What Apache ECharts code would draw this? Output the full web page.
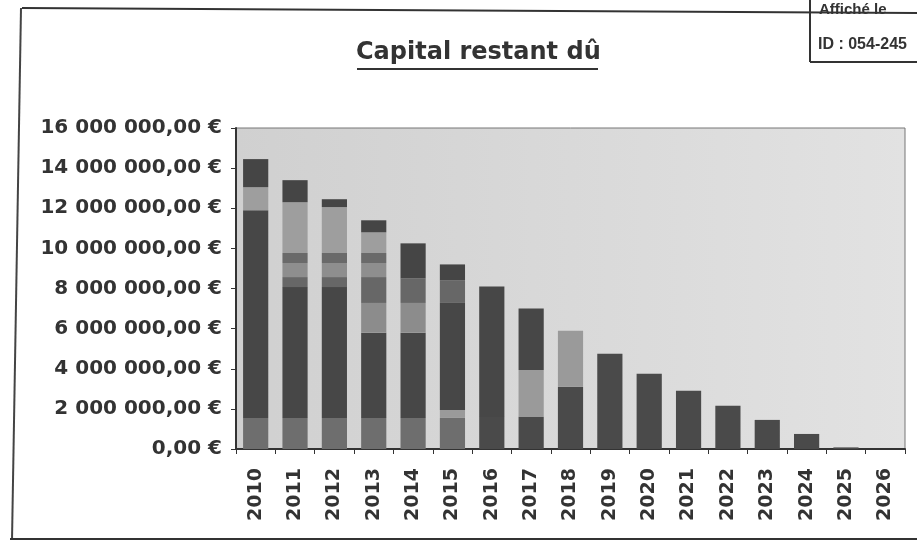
<!DOCTYPE html>
<html>
<head>
<meta charset="utf-8">
<script src="https://cdn.jsdelivr.net/npm/echarts@6/dist/echarts.min.js"></script>
<style>
html,body{margin:0;padding:0;background:#fff;}
#c{width:917px;height:543px;}
</style>
</head>
<body>
<div id="c"></div>
<script>
const years = ['2010','2011','2012','2013','2014','2015','2016','2017','2018','2019','2020','2021','2022','2023','2024','2025','2026'];
// stacked segments, bottom to top (euros)
const segBottom   = [1550000,1550000,1550000,1550000,1550000,1550000,0,0,0,0,0,0,0,0,0,0,0];
const segLower    = [0,0,0,0,0,0,1600000,1600000,3100000,4750000,3750000,2900000,2150000,1450000,750000,80000,0];
const segPatternA = [0,0,0,0,0,400000,0,2340000,2800000,0,0,0,0,0,0,0,0];
const segMain     = [10350000,6520000,6520000,4250000,4250000,5330000,6500000,3060000,0,0,0,0,0,0,0,0,0];
const segPatternB = [0,0,0,1480000,1480000,0,0,0,0,0,0,0,0,0,0,0,0];
const segBandA    = [0,500000,500000,1290000,1220000,1120000,0,0,0,0,0,0,0,0,0,0,0];
const segPatternC = [0,700000,700000,700000,0,0,0,0,0,0,0,0,0,0,0,0,0];
const segBandB    = [0,500000,500000,500000,0,0,0,0,0,0,0,0,0,0,0,0,0];
const segPatternD = [1150000,2530000,2290000,1030000,0,0,0,0,0,0,0,0,0,0,0,0,0];
const segTop      = [1400000,1100000,390000,600000,1750000,800000,0,0,0,0,0,0,0,0,0,0,0];
const yMax = 16000000;
const yStep = 2000000;
const titleText = 'Capital restant dû';

function fmtEuro(v){
  const s = Math.round(v).toString().replace(/\B(?=(\d{3})+(?!\d))/g, ' ');
  return s + ',00 €';
}

const segs = [
  {name:'A', data:segBottom,   color:'#6e6e6e'},
  {name:'B', data:segLower,    color:'#4a4a4a'},
  {name:'C', data:segPatternA, color:'#9a9a9a'},
  {name:'D', data:segMain,     color:'#474747'},
  {name:'E', data:segPatternB, color:'#8c8c8c'},
  {name:'F', data:segBandA,    color:'#676767'},
  {name:'G', data:segPatternC, color:'#8e8e8e'},
  {name:'H', data:segBandB,    color:'#6a6a6a'},
  {name:'I', data:segPatternD, color:'#9e9e9e'},
  {name:'J', data:segTop,      color:'#454545'}
];

const chart = echarts.init(document.getElementById('c'), null, {renderer:'canvas'});
const font = '"DejaVu Sans", sans-serif';
chart.setOption({
  backgroundColor:'#ffffff',
  animation:false,
  grid:{left:236,right:12,top:128,bottom:94,show:true,borderColor:'#777',borderWidth:1,
    backgroundColor:new echarts.graphic.LinearGradient(0,0,1,0,[{offset:0,color:'#d0d0d0'},{offset:1,color:'#e2e2e2'}])},
  xAxis:{type:'category',data:years,
    axisLine:{show:true,lineStyle:{color:'#333',width:2}},
    axisTick:{show:true,alignWithLabel:false,length:5,lineStyle:{color:'#333'}},
    axisLabel:{rotate:90,margin:19,fontFamily:font,fontWeight:'bold',fontSize:19,color:'#333',interval:0}
  },
  yAxis:{type:'value',min:0,max:yMax,interval:yStep,
    axisLine:{show:true,lineStyle:{color:'#333',width:2}},
    axisTick:{show:true,length:5,lineStyle:{color:'#333'}},
    splitLine:{show:false},
    axisLabel:{formatter:fmtEuro,margin:14,fontFamily:font,fontWeight:'bold',fontSize:20,color:'#333'}
  },
  series:segs.map(s=>({type:'bar',name:s.name,stack:'t',data:s.data,barWidth:'64%',
    itemStyle:{color:s.color},emphasis:{disabled:true}})),
  graphic:[
    {type:'text',left:356,top:41,style:{text:titleText,font:'bold 24px "DejaVu Sans", sans-serif',fill:'#333'}},
    {type:'line',shape:{x1:357,y1:69,x2:598,y2:69},style:{stroke:'#333',lineWidth:2}},
    {type:'polyline',shape:{points:[[22,8],[917,13]]},style:{stroke:'#333',lineWidth:2}},
    {type:'polyline',shape:{points:[[21,8],[12,540]]},style:{stroke:'#444',lineWidth:2}},
    {type:'line',shape:{x1:10,y1:539,x2:917,y2:539},style:{stroke:'#333',lineWidth:2}},
    {type:'line',shape:{x1:810,y1:0,x2:810,y2:62},style:{stroke:'#333',lineWidth:2}},
    {type:'line',shape:{x1:810,y1:62,x2:917,y2:62},style:{stroke:'#333',lineWidth:2}},
    {type:'text',left:819,top:2,style:{text:'Affiché le',font:'bold 15px "Liberation Sans", sans-serif',fill:'#333'}},
    {type:'text',left:818,top:37,style:{text:'ID : 054-245',font:'bold 16px "Liberation Sans", sans-serif',fill:'#333'}}
  ]
});
</script>
</body>
</html>
